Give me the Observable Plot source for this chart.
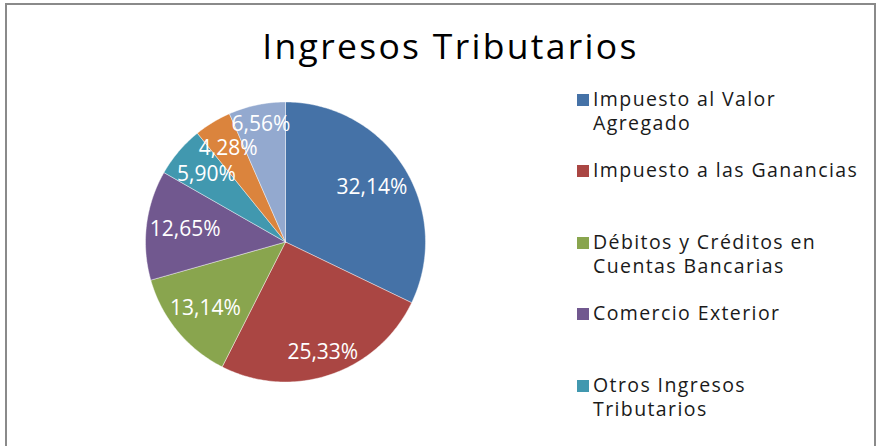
<!DOCTYPE html>
<html><head><meta charset="utf-8">
<script src="https://cdn.jsdelivr.net/npm/d3@7"></script>
<script src="https://cdn.jsdelivr.net/npm/@observablehq/plot@0.6"></script>
<style>
html,body{margin:0;padding:0;background:#fff;}
#wrap{position:relative;width:881px;height:446px;overflow:hidden;}
#frame{position:absolute;left:5px;top:3px;width:871px;height:460px;border:2px solid #8a8a8a;box-sizing:border-box;}
#title{position:absolute;left:0;width:901px;top:21px;text-align:center;font-family:"Open Sans",sans-serif;font-size:35.5px;letter-spacing:2.3px;line-height:normal;color:#000;}
.leg{position:absolute;left:577px;font-family:"Open Sans",sans-serif;font-size:19.5px;line-height:24px;letter-spacing:1.4px;color:#1a1a1a;white-space:pre-line;}
.leg .sw{position:absolute;left:0;top:7px;width:12px;height:12px;}
.leg .tx{position:absolute;left:16px;top:0;width:300px;}
#chart{position:absolute;left:0;top:0;}
</style></head>
<body><div id="wrap"><div id="chart"></div><div id="frame"></div><div id="title">Ingresos Tributarios</div></div>
<script>
const categories = ["Impuesto al Valor Agregado","Impuesto a las Ganancias","Débitos y Créditos en Cuentas Bancarias","Comercio Exterior","Otros Ingresos Tributarios","Seguridad Social","Otros"];
const legendLabels = ["Impuesto al Valor\nAgregado","Impuesto a las Ganancias","Débitos y Créditos en\nCuentas Bancarias","Comercio Exterior","Otros Ingresos\nTributarios"];
const values = [32.14, 25.33, 13.14, 12.65, 5.90, 4.28, 6.56];
const colors = ["#4572a7","#aa4643","#89a54e","#71588f","#4198af","#db843d","#93a9cf"];

const total = d3.sum(values);
const cx = 285, cy = 241.5, r = 140;
// slice polygons (angles clockwise from top)
let start = 0;
const slices = values.map((v, i) => {
  const a0 = start, a1 = start + v / total * 2 * Math.PI;
  start = a1;
  const n = Math.max(2, Math.ceil((a1 - a0) / (Math.PI / 180)));
  const pts = [{x: 0, y: 0}];
  for (let k = 0; k <= n; k++) {
    const a = a0 + (a1 - a0) * k / n;
    pts.push({x: Math.sin(a), y: Math.cos(a)});
  }
  pts.push({x: 0, y: 0});
  return {i, a0, a1, pts};
});
const fs = 21, tw = 70, th = 20;
const labels = slices.map(s => {
  const m = (s.a0 + s.a1) / 2;
  const ext = Math.abs(Math.sin(m)) * tw / 2 + Math.abs(Math.cos(m)) * th / 2;
  const rr = (r - ext - 3) / r;
  return {x: Math.sin(m) * rr, y: Math.cos(m) * rr, t: values[s.i].toFixed(2).replace(".", ",") + "%"};
});

const chart = Plot.plot({
  width: 881, height: 446, margin: 0,
  x: {domain: [-1, 1], range: [cx - r, cx + r], axis: null},
  y: {domain: [-1, 1], range: [cy + r, cy - r], axis: null},
  style: {background: "transparent"},
  marks: [
    ...slices.map(s => Plot.line(s.pts, {x: "x", y: "y", fill: colors[s.i], stroke: "#ffffff", strokeWidth: 0.6, strokeOpacity: 0.7, curve: "linear"})),
    Plot.text(labels, {x: "x", y: "y", text: "t", fill: "white", fontSize: fs, fontFamily: "Open Sans"})
  ]
});
document.getElementById("chart").appendChild(chart);

const wrap = document.getElementById("wrap");
legendLabels.forEach((lab, i) => {
  const d = document.createElement("div");
  d.className = "leg";
  d.style.top = (86.5 + i * 71.5) + "px";
  const sw = document.createElement("div"); sw.className = "sw"; sw.style.background = colors[i];
  const tx = document.createElement("div"); tx.className = "tx"; tx.textContent = lab;
  d.appendChild(sw); d.appendChild(tx);
  wrap.appendChild(d);
});
</script></body></html>
